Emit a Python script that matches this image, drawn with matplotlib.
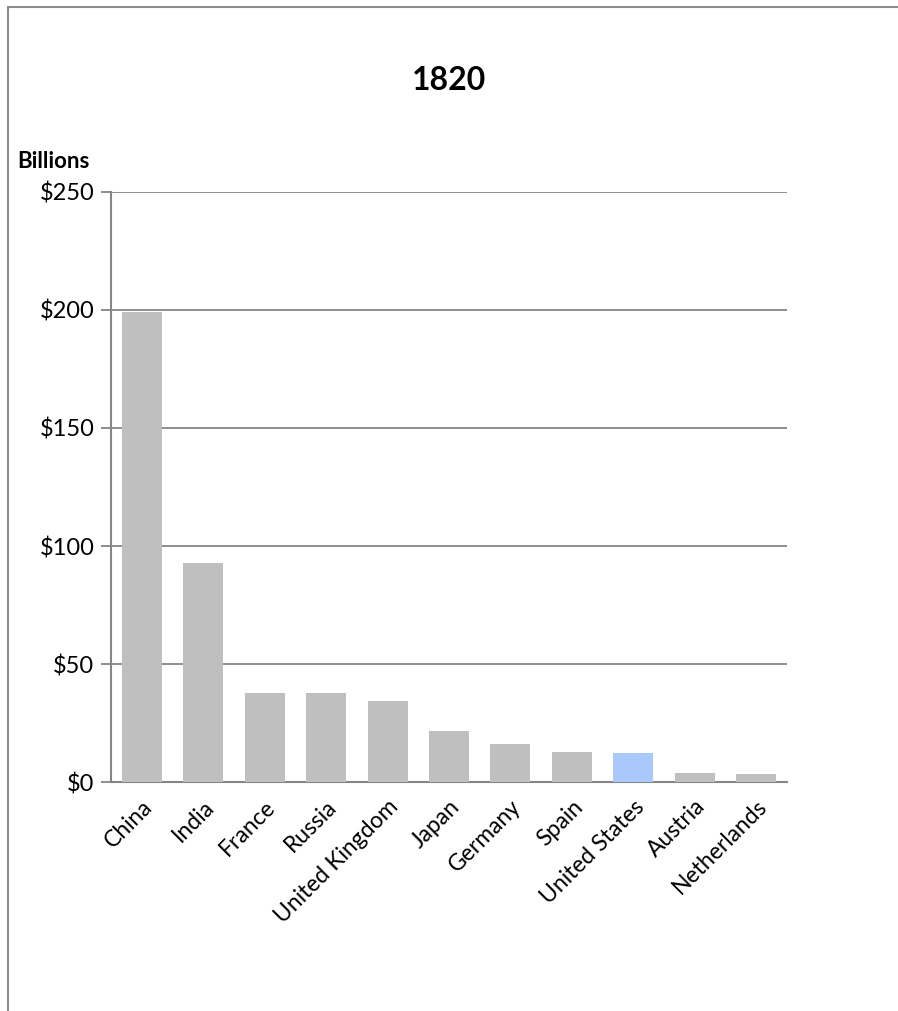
import matplotlib.pyplot as plt
import numpy as np
from matplotlib.patches import Rectangle

plt.rcParams['font.family'] = ['Lato', 'DejaVu Sans']

countries = ['China', 'India', 'France', 'Russia', 'United Kingdom', 'Japan',
             'Germany', 'Spain', 'United States', 'Austria', 'Netherlands']
gdp = [199.2, 92.8, 37.7, 37.6, 34.4, 21.6, 16.1, 12.8, 12.4, 3.8, 3.4]
highlight = 'United States'

colors = ['#a9c8fb' if c == highlight else '#bfbfbf' for c in countries]

fig = plt.figure(figsize=(8.98, 10.11), dpi=100)
ax = fig.add_axes([0.1236, 0.2265, 0.7528, 0.5836])

# chart frame
fig.patches.append(Rectangle((8 / 898, -0.1), 1.2, 1 - 7 / 1011 + 0.1,
                             transform=fig.transFigure, fill=False,
                             edgecolor='#8c8c8c', linewidth=1.5))

x = np.arange(len(countries))
ax.bar(x, gdp, width=0.65, color=colors, zorder=3)

ax.set_xlim(-0.5, len(countries) - 0.5)
ax.set_ylim(0, 250)
ax.set_yticks(range(0, 251, 50))
ax.set_yticklabels(['$' + str(v) for v in range(0, 251, 50)], fontsize=17)
ax.set_xticks(x)
ax.set_xticklabels(countries, rotation=45, ha='right', rotation_mode='anchor',
                   fontsize=16.5)
ax.tick_params(axis='x', length=0, pad=10)
ax.tick_params(axis='y', length=7, width=1.3, color='#868686', pad=5)

ax.grid(axis='y', color='#868686', linewidth=1.3, zorder=0)
for s in ['top', 'right']:
    ax.spines[s].set_visible(False)
for s in ['left', 'bottom']:
    ax.spines[s].set_color('#868686')
    ax.spines[s].set_linewidth(1.5)

fig.text(0.5, 1 - 80 / 1011, '1820', ha='center', va='center',
         fontsize=23, fontweight='bold')
fig.text(17 / 898, 1 - 162 / 1011, 'Billions', ha='left', va='center',
         fontsize=16, fontweight='bold')

fig.savefig('out.png', dpi=100)
